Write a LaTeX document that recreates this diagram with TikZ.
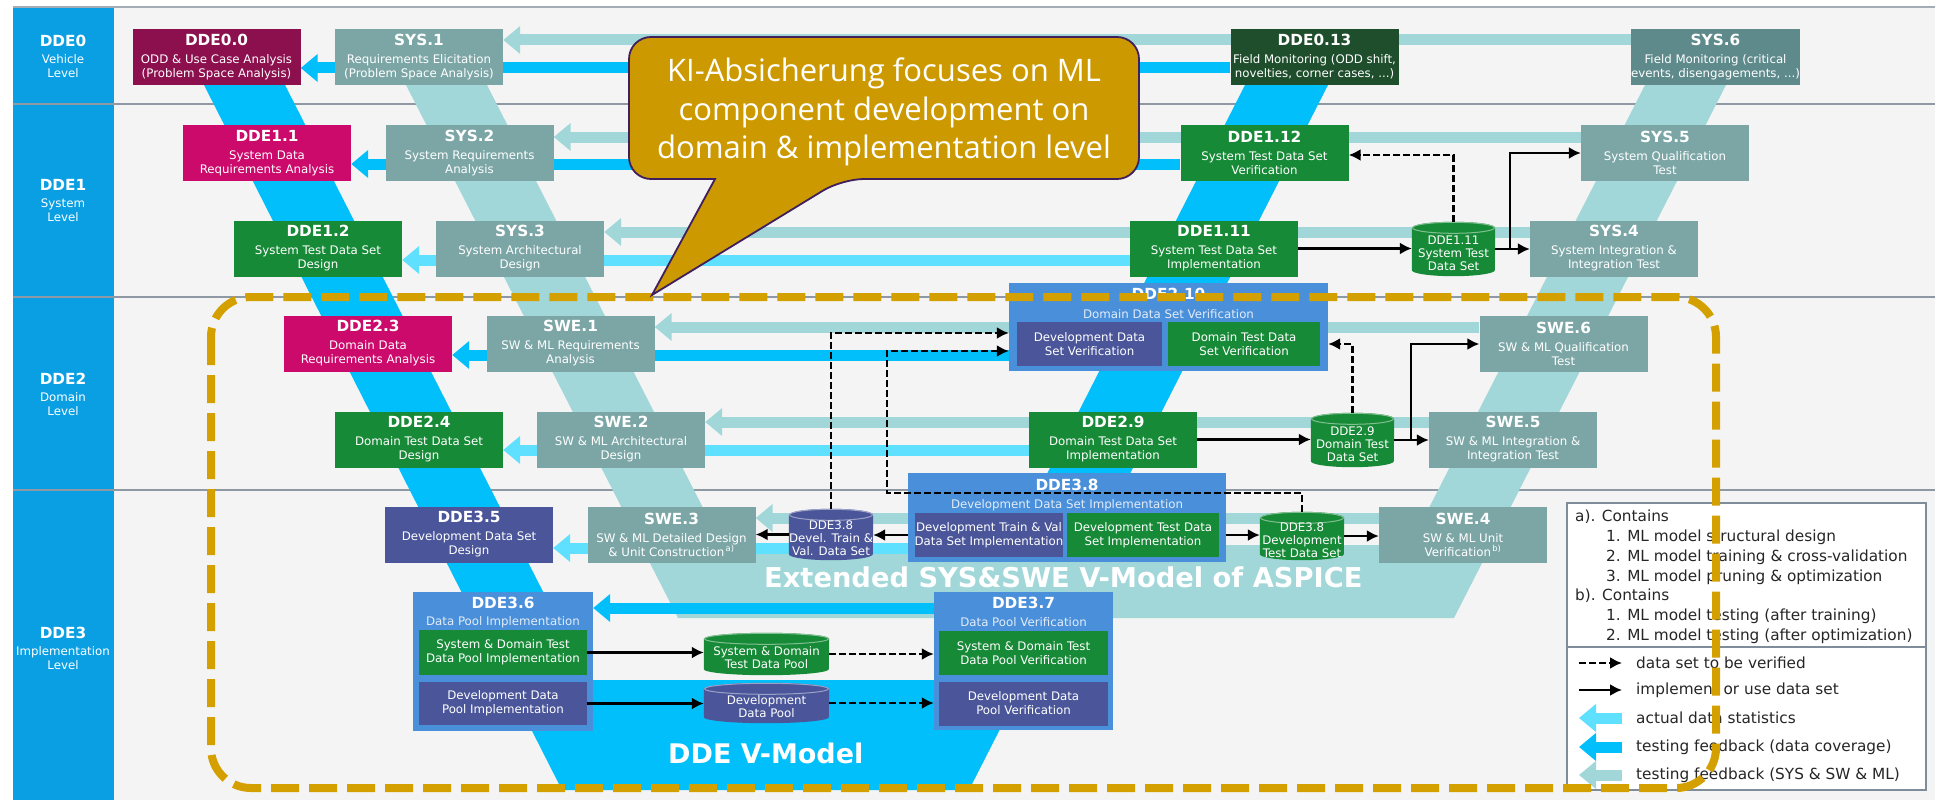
\documentclass[tikz,border=0pt]{standalone}
\usepackage{fontspec}
\setmainfont{DejaVu Sans}
\newfontfamily\calloutfont{Open Sans}
\usetikzlibrary{arrows.meta,calc}

\definecolor{cBg}{HTML}{F4F4F4}
\definecolor{cCol}{HTML}{0A9FE3}
\definecolor{cLine}{HTML}{8E99A3}
\definecolor{cV}{HTML}{00BFFA}
\definecolor{cCyan}{HTML}{5FE0FF}
\definecolor{cTeal}{HTML}{A2D7D9}
\definecolor{cSys}{HTML}{7CA6A6}
\definecolor{cSysDark}{HTML}{5E8A8B}
\definecolor{cMaroon}{HTML}{8C0F4E}
\definecolor{cMag}{HTML}{CC0A6B}
\definecolor{cGreen}{HTML}{178A37}
\definecolor{cDkGreen}{HTML}{1E4E2C}
\definecolor{cPurple}{HTML}{4A5699}
\definecolor{cCont}{HTML}{4A8FDA}
\definecolor{cGold}{HTML}{D4A000}
\definecolor{cCallout}{HTML}{CC9A00}
\definecolor{cCallBorder}{HTML}{3F1F5E}
\definecolor{cLegend}{HTML}{7F8C99}
\definecolor{cSubTxt}{HTML}{E2ECF8}

\pgfdeclarelayer{backdrop}
\pgfdeclarelayer{bands}
\pgfsetlayers{backdrop,bands,main}

\newcommand\subfont{\fontsize{11.8}{14}\selectfont}
\newcommand\legfont{\fontsize{15.3}{18}\selectfont}
\newcommand\boxtitle[1]{{\fontsize{15.3}{16}\selectfont\bfseries #1}}

% thick feedback arrow running left from a source box into a target box
\newcommand\feedband[4]{%
  \path ($(#3.east)+(0,#4)$) coordinate (bandend);
  \draw[#1] (#2.west |- bandend) -- (bandend);}

% data set drawn as an upright cylinder: name, cx, cy, width, height, colour, text
\newcommand\datacyl[7]{%
  \node[minimum width=#4, minimum height=#5, inner sep=0pt] (#1) at (#2,#3) {};
  \fill[#6] ($(#1.north west)+(0,6)$) -- ($(#1.south west)+(0,-6)$)
     arc[start angle=180, end angle=0, x radius=#4/2, y radius=6]
     -- ($(#1.north east)+(0,6)$)
     arc[start angle=0, end angle=-180, x radius=#4/2, y radius=6] -- cycle;
  \draw[#6!55!white, line width=1] ($(#1.north)+(0,6)$) ellipse[x radius=#4/2-0.5, y radius=5.5];
  \node[cyltext] (#1-t) at ($(#1.center)+(0,4)$) {#7};}

\begin{document}
\begin{tikzpicture}[x=1pt, y=-1pt,
  box/.style={minimum width=168, minimum height=56, inner sep=0pt, align=center, text=white, font=\subfont},
  ibox/.style={minimum height=44, inner sep=0pt, align=center, text=white, font=\subfont},
  cont/.style={fill=cCont, inner sep=0pt},
  ctitle/.style={text=white, font=\fontsize{15.3}{16}\selectfont\bfseries, inner sep=0pt},
  csub/.style={text=cSubTxt, font=\subfont, inner sep=0pt},
  cyltext/.style={text=white, align=center, font=\fontsize{11.8}{13}\selectfont, inner sep=0pt},
  lbl/.style={text=white, align=center, font=\subfont, inner sep=0pt},
  bandT/.style={draw=cTeal, line width=11, -{Triangle[width=27pt,length=17pt]}},
  bandB/.style={draw=cV, line width=11, -{Triangle[width=27pt,length=17pt]}},
  bandC/.style={draw=cCyan, line width=11, -{Triangle[width=27pt,length=17pt]}},
  arr/.style={draw=black, line width=2.2, -{Latex[length=12pt,width=12pt]}},
  darr/.style={arr, dash pattern=on 7pt off 3pt},
  vtext/.style={text=white, font=\fontsize{27.3}{30}\selectfont\bfseries, inner sep=0pt, anchor=west},
  legtext/.style={anchor=west, font=\legfont, inner sep=0pt, text=black!85}
]
\useasboundingbox (0,0) rectangle (1935,800);

\begin{pgfonlayer}{backdrop}
% ---------- background and level rows ----------
\fill[white] (0,0) rectangle (1935,800);
\fill[cBg] (13,7) rectangle (1935,800);
\fill[cCol] (13,7) rectangle (114,800);
\foreach \yy in {104,297,490} \draw[cLine, line width=2] (13,\yy) -- (1935,\yy);
\draw[cLine!80, line width=1.5] (13,7) -- (1935,7);

% ---------- the two V-models ----------
\fill[cV] (204,85) -- (562,790) -- (969,790) -- (1328,85) -- (1245,85)
  -- (942,680) -- (588,680) -- (285,85) -- cycle;
\fill[cTeal] (406,85) -- (678,618) -- (1454,618) -- (1726,85) -- (1645,85)
  -- (1410,545) -- (722,545) -- (487,85) -- cycle;
\node[vtext] (vsys) at (764,577) {Extended SYS\&SWE V-Model of ASPICE};
\node[vtext, font=\fontsize{27}{30}\selectfont\bfseries] (vdde) at (668,753) {DDE V-Model};
\end{pgfonlayer}

\node[lbl] (lv0) at (63,56)  {\boxtitle{DDE0}\\[3pt]Vehicle\\Level};
\node[lbl] (lv1) at (63,201) {\boxtitle{DDE1}\\[3pt]System\\Level};
\node[lbl] (lv2) at (63,394) {\boxtitle{DDE2}\\[3pt]Domain\\Level};
\node[lbl] (lv3) at (63,648) {\boxtitle{DDE3}\\[3pt]Implementation\\Level};

% ---------- process boxes ----------
\node[box, fill=cMaroon]  (dde00)  at (216.5,57) {\boxtitle{DDE0.0}\\[4pt]ODD \& Use Case Analysis\\(Problem Space Analysis)};
\node[box, fill=cSys]     (sys1)   at (419,57)   {\boxtitle{SYS.1}\\[4pt]Requirements Elicitation\\(Problem Space Analysis)};
\node[box, fill=cDkGreen] (dde013) at (1314.5,57) {\boxtitle{DDE0.13}\\[4pt]Field Monitoring (ODD shift,\\novelties, corner cases, ...)};
\node[box, fill=cSysDark] (sys6)   at (1715.5,57) {\boxtitle{SYS.6}\\[4pt]Field Monitoring (critical\\events, disengagements, ...)};

\node[box, fill=cMag]     (dde11)  at (267,153)  {\boxtitle{DDE1.1}\\[4pt]System Data\\Requirements Analysis};
\node[box, fill=cSys]     (sys2)   at (469.5,153) {\boxtitle{SYS.2}\\[4pt]System Requirements\\Analysis};
\node[box, fill=cGreen]   (dde112) at (1264.5,153) {\boxtitle{DDE1.12}\\[4pt]System Test Data Set\\Verification};
\node[box, fill=cSys]     (sys5)   at (1665,153) {\boxtitle{SYS.5}\\[4pt]System Qualification\\Test};

\node[box, fill=cGreen]   (dde12)  at (318,248.5) {\boxtitle{DDE1.2}\\[4pt]System Test Data Set\\Design};
\node[box, fill=cSys]     (sys3)   at (520,248.5) {\boxtitle{SYS.3}\\[4pt]System Architectural\\Design};
\node[box, fill=cGreen]   (dde111) at (1214,248.5) {\boxtitle{DDE1.11}\\[4pt]System Test Data Set\\Implementation};
\node[box, fill=cSys]     (sys4)   at (1614,248.5) {\boxtitle{SYS.4}\\[4pt]System Integration \&\\Integration Test};

\node[box, fill=cMag]     (dde23)  at (368,343.5) {\boxtitle{DDE2.3}\\[4pt]Domain Data\\Requirements Analysis};
\node[box, fill=cSys]     (swe1)   at (570.5,343.5) {\boxtitle{SWE.1}\\[4pt]SW \& ML Requirements\\Analysis};
\node[box, fill=cSys]     (swe6)   at (1563.5,344) {\boxtitle{SWE.6}\\[4pt]SW \& ML Qualification\\Test};

\node[box, fill=cGreen]   (dde24)  at (419,439.5) {\boxtitle{DDE2.4}\\[4pt]Domain Test Data Set\\Design};
\node[box, fill=cSys]     (swe2)   at (621,439.5) {\boxtitle{SWE.2}\\[4pt]SW \& ML Architectural\\Design};
\node[box, fill=cGreen]   (dde29)  at (1113,439.5) {\boxtitle{DDE2.9}\\[4pt]Domain Test Data Set\\Implementation};
\node[box, fill=cSys]     (swe5)   at (1513,439.5) {\boxtitle{SWE.5}\\[4pt]SW \& ML Integration \&\\Integration Test};

\node[box, fill=cPurple]  (dde35)  at (469,534.5) {\boxtitle{DDE3.5}\\[4pt]Development Data Set\\Design};
\node[box, fill=cSys]     (swe3)   at (671.5,534.5) {\boxtitle{SWE.3}\\[4pt]SW \& ML Detailed Design\\\& Unit Construction\textsuperscript{\,a)}};
\node[box, fill=cSys]     (swe4)   at (1463,534.5) {\boxtitle{SWE.4}\\[4pt]SW \& ML Unit\\Verification\textsuperscript{\,b)}};

% ---------- grouped activities ----------
\node[cont, minimum width=319, minimum height=88] (dde210) at (1168.5,327) {};
\node[ctitle] (dde210-t) at ($(dde210.north)+(0,11)$) {DDE2.10};
\node[csub]   (dde210-s) at ($(dde210.north)+(0,31)$) {Domain Data Set Verification};
\node[ibox, fill=cPurple, minimum width=145] (dvv) at (1089.5,344) {Development Data\\Set Verification};
\node[ibox, fill=cGreen,  minimum width=152] (dtv) at (1244,344) {Domain Test Data\\Set Verification};

\node[cont, minimum width=318, minimum height=89] (dde38) at (1067,517.5) {};
\node[ctitle] (dde38-t) at ($(dde38.north)+(0,12)$) {DDE3.8};
\node[csub]   (dde38-s) at ($(dde38.north)+(0,32)$) {Development Data Set Implementation};
\node[ibox, fill=cPurple, minimum width=146] (dtrain) at (989,535) {Development Train \& Val\\Data Set Implementation};
\node[ibox, fill=cGreen,  minimum width=152] (dtest)  at (1143,535) {Development Test Data\\Set Implementation};

\node[cont, minimum width=180, minimum height=139] (dde36) at (503,661.5) {};
\node[ctitle] (dde36-t) at ($(dde36.north)+(0,11)$) {DDE3.6};
\node[csub]   (dde36-s) at ($(dde36.north)+(0,30)$) {Data Pool Implementation};
\node[ibox, fill=cGreen,  minimum width=168, minimum height=45] (sdti) at (503,652.5) {System \& Domain Test\\Data Pool Implementation};
\node[ibox, fill=cPurple, minimum width=168, minimum height=43] (dpi)  at (503,703.5) {Development Data\\Pool Implementation};

\node[cont, minimum width=179, minimum height=138] (dde37) at (1023.5,661) {};
\node[ctitle] (dde37-t) at ($(dde37.north)+(0,11)$) {DDE3.7};
\node[csub]   (dde37-s) at ($(dde37.north)+(0,30)$) {Data Pool Verification};
\node[ibox, fill=cGreen,  minimum width=169] (sdtv) at (1023.5,653) {System \& Domain Test\\Data Pool Verification};
\node[ibox, fill=cPurple, minimum width=169] (dpv)  at (1023.5,703.5) {Development Data\\Pool Verification};

% ---------- data sets ----------
\datacyl{cyl111}{1453.5}{249}{83}{54}{cGreen}{DDE1.11\\System Test\\Data Set}
\datacyl{cyl29}{1352.5}{440}{83}{54}{cGreen}{DDE2.9\\Domain Test\\Data Set}
\datacyl{cyl38a}{831}{534.5}{84}{51}{cPurple}{DDE3.8\\Devel. Train \&\\Val. Data Set}
\datacyl{cyl38b}{1302}{536}{84}{48}{cGreen}{DDE3.8\\Development\\Test Data Set}
\datacyl{cylsd}{766.5}{654}{125}{42}{cGreen}{System \& Domain\\Test Data Pool}
\datacyl{cyldp}{766.5}{703}{125}{40}{cPurple}{Development\\Data Pool}

% ---------- feedback bands, drawn behind the boxes they pass ----------
\begin{pgfonlayer}{bands}
\feedband{bandT}{sys6}{sys1}{-17}
\feedband{bandB}{dde013}{dde00}{11}
\feedband{bandT}{sys5}{sys2}{-16}
\feedband{bandB}{dde112}{dde11}{11}
\feedband{bandT}{sys4}{sys3}{-16.5}
\feedband{bandC}{dde111}{dde12}{11.5}
\feedband{bandT}{swe6}{swe1}{-16.5}
\feedband{bandB}{dde210}{dde23}{11.5}
\feedband{bandT}{swe5}{swe2}{-17.5}
\feedband{bandC}{dde29}{dde24}{10.5}
\feedband{bandT}{swe4}{swe3}{-16.5}
\feedband{bandC}{dde38}{dde35}{13.5}
\feedband{bandB}{dde37}{dde36}{-53.5}
\end{pgfonlayer}

% ---------- implement / verify connectors ----------
\draw[arr] (dde111.east) -- (dde111.east -| cyl111.west);
\draw[arr] (cyl111.east) -- (cyl111.east -| sys4.west);
\coordinate (j1) at ($(cyl111.east)+(15,0)$);
\draw[arr] (j1) |- (sys5.west);
\draw[darr] (cyl111.north) |- ($(dde112.east)+(0,2)$);

\draw[arr] (dde29.east) -- (dde29.east -| cyl29.west);
\draw[arr] (cyl29.east) -- (cyl29.east -| swe5.west);
\coordinate (j2) at ($(cyl29.east)+(17,0)$);
\draw[arr] (j2) |- (swe6.west);
\draw[darr] (cyl29.north) |- (dde210.east |- dtv.east);

\draw[darr] (cyl38a.north) |- ($(dde210.west |- dvv.west)+(0,-11)$);
\coordinate (k1) at (887,493);
\draw[darr] (cyl38b.north) |- (k1) |- ($(dde210.west |- dvv.west)+(0,7)$);

\draw[arr] (dde38.west |- dtrain.west) -- (cyl38a.east |- dtrain.west);
\draw[arr] (cyl38a.west) -- (cyl38a.west -| swe3.east);
\draw[arr] (dde38.east |- dtest.east) -- (cyl38b.west |- dtest.east);
\draw[arr] (cyl38b.east) -- (cyl38b.east -| swe4.west);

\draw[arr] (sdti.east) -- (sdti.east -| cylsd.west);
\draw[arr] (dpi.east) -- (dpi.east -| cyldp.west);
\draw[darr] (cylsd.east) -- (cylsd.east -| dde37.west);
\draw[darr] (cyldp.east) -- (cyldp.east -| dde37.west);

% ---------- legend ----------
\node[draw=cLegend, line width=2, fill=white, minimum width=359, minimum height=287, inner sep=0pt] (legend) at (1746.5,646.5) {};
\coordinate (lgsep) at (0,647);
\draw[cLegend, line width=2] (legend.west |- lgsep) -- (legend.east |- lgsep);
\node[legtext] (lga)  at (1575,517) {a). Contains};
\node[legtext] (lga1) at (1606,537) {1. ML model structural design};
\node[legtext] (lga2) at (1606,557) {2. ML model training \& cross-validation};
\node[legtext] (lga3) at (1606,577) {3. ML model pruning \& optimization};
\node[legtext] (lgb)  at (1575,596) {b). Contains};
\node[legtext] (lgb1) at (1606,616) {1. ML model testing (after training)};
\node[legtext] (lgb2) at (1606,636) {2. ML model testing (after optimization)};

\coordinate (ls1a) at (1579,663); \coordinate (ls1b) at (1622,663);
\coordinate (ls2a) at (1579,690); \coordinate (ls2b) at (1622,690);
\coordinate (ls3a) at (1579,718); \coordinate (ls3b) at (1622,718);
\coordinate (ls4a) at (1579,747); \coordinate (ls4b) at (1622,747);
\coordinate (ls5a) at (1579,775); \coordinate (ls5b) at (1622,775);
\draw[darr] (ls1a) -- (ls1b);
\draw[arr] (ls2a) -- (ls2b);
\draw[bandC] (ls3b) -- (ls3a);
\draw[bandB] (ls4b) -- (ls4a);
\draw[bandT] (ls5b) -- (ls5a);
\node[legtext] (lg1) at (1636,663) {data set to be verified};
\node[legtext] (lg2) at (1636,690) {implement or use data set};
\node[legtext] (lg3) at (1636,718) {actual data statistics};
\node[legtext] (lg4) at (1636,747) {testing feedback (data coverage)};
\node[legtext] (lg5) at (1636,775) {testing feedback (SYS \& SW \& ML)};

% ---------- focus frame ----------
\draw[cGold, line width=8, dash pattern=on 28pt off 10pt, rounded corners=40] (211,297) rectangle (1716,788);

% ---------- callout ----------
\path[fill=cCallout, draw=cCallBorder, line width=1.8]
  (629,108) [rounded corners=22] -- (629,37) -- (1139,37) -- (1139,179) -- (842,179)
  [sharp corners] -- (652,295) -- (715,179) [rounded corners=22] -- (629,179) -- cycle;
\node[font=\calloutfont\fontsize{31}{38.5}\selectfont, text=white, align=center, inner sep=0pt] (callout) at (884,112)
  {KI-Absicherung focuses on ML\\component development on\\domain \& implementation level};
\end{tikzpicture}
\end{document}
